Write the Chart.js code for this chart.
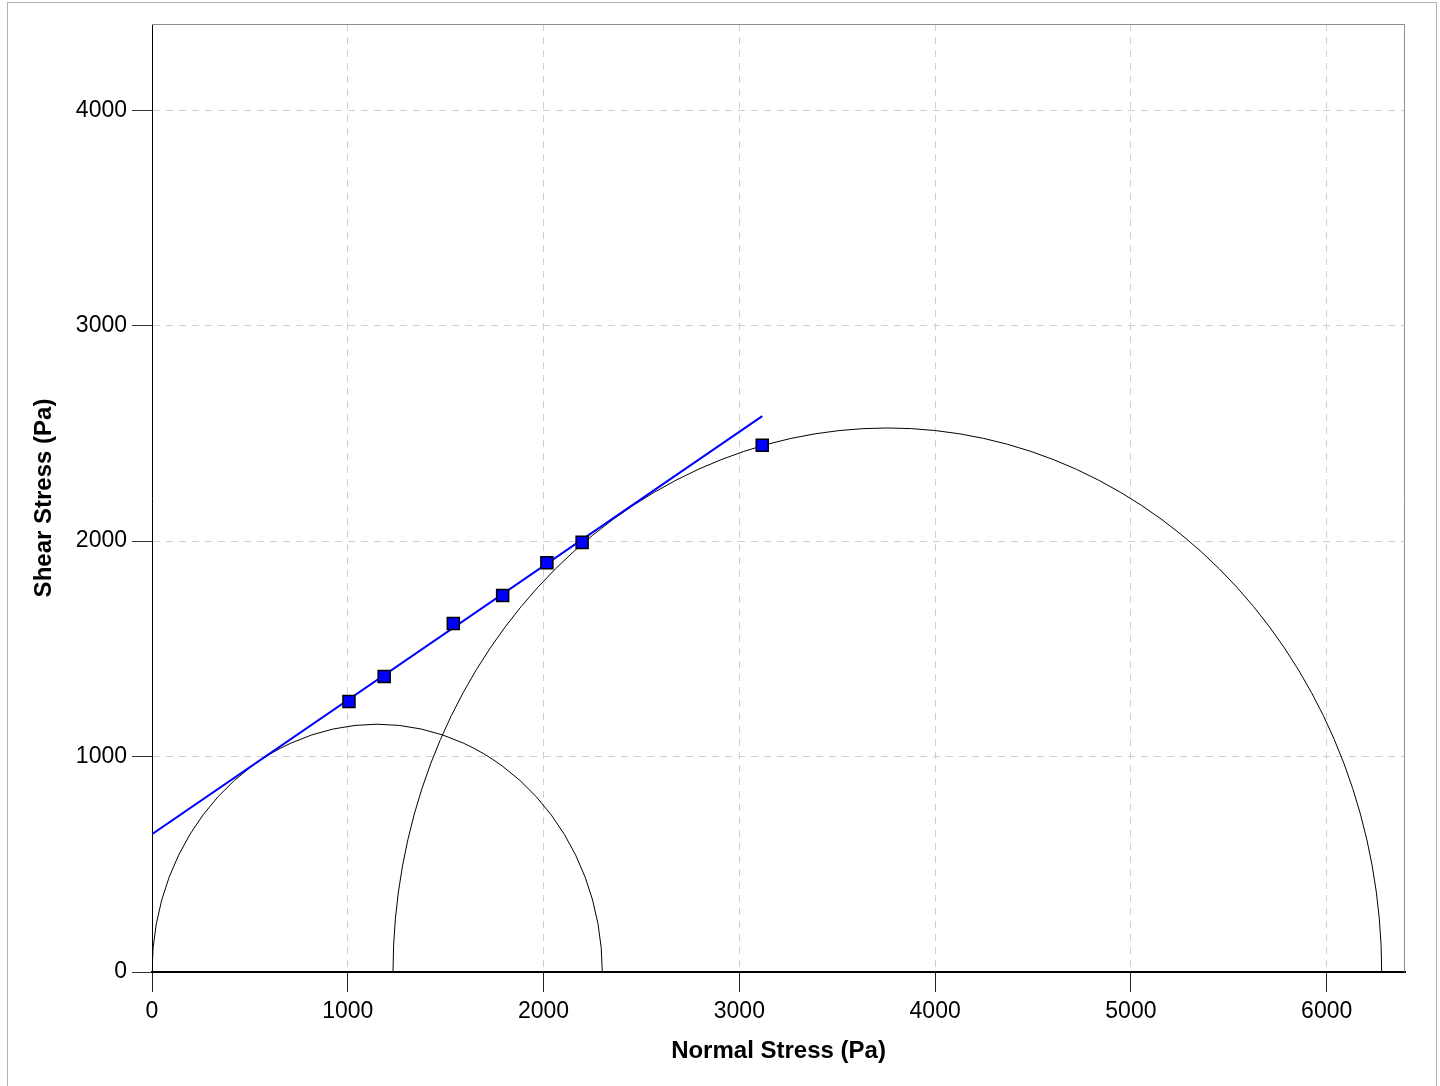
<!DOCTYPE html>
<html lang="en">
<head>
    <meta charset="UTF-8">
    <title>Mohr Circles - Shear vs Normal Stress</title>
    <style>
        html, body { margin: 0; padding: 0; background: #fff; }
        .frame { position: absolute; left: 7px; top: 2px; width: 1428px; height: 1090px;
                 border: 1px solid #b4b4b4; border-bottom: none; }
        #chart { position: absolute; left: 0; top: 0; }
    </style>
</head>
<body>
    <div class="frame"></div>
    <canvas id="chart" width="1440" height="1086"></canvas>

    <script src="https://cdnjs.cloudflare.com/ajax/libs/Chart.js/4.4.0/chart.umd.min.js"></script>
    <script>
        // measured points (normal stress, shear stress) in Pa
        const normalStress = [1006, 1186, 1539, 1791, 2017, 2197, 3117];
        const shearStress  = [1256, 1372, 1618, 1747, 1900, 1994, 2445];

        // yield locus line end points
        const lineX = [0, 3117];
        const lineY = [640, 2580];

        // Mohr circles: centre on the normal stress axis and radius
        const circleCenters = [1150, 3756];
        const circleRadii   = [1150, 2525];

        const xTicks = [0, 1000, 2000, 3000, 4000, 5000, 6000];
        const yTicks = [0, 1000, 2000, 3000, 4000];
        const xMax = 6400, yMax = 4400;

        const FONT = 'Liberation Sans, Arial, sans-serif';

        // draws the half circles through the chart scales, plus the top/right frame
        const mohrPlugin = {
            id: 'mohr',
            beforeDatasetsDraw(chart) {
                const { ctx, chartArea, scales: { x, y } } = chart;
                ctx.save();
                ctx.beginPath();
                ctx.rect(chartArea.left, chartArea.top, chartArea.right - chartArea.left, chartArea.bottom - chartArea.top + 1);
                ctx.clip();
                ctx.strokeStyle = '#000';
                ctx.lineWidth = 1;
                circleCenters.forEach((c, i) => {
                    const r = circleRadii[i];
                    const cx = x.getPixelForValue(c);
                    const cy = y.getPixelForValue(0);
                    const rx = x.getPixelForValue(c + r) - cx;
                    const ry = cy - y.getPixelForValue(r);
                    ctx.beginPath();
                    ctx.ellipse(cx, cy, rx, ry, 0, Math.PI, 2 * Math.PI);
                    ctx.stroke();
                });
                ctx.restore();
            },
            afterDraw(chart) {
                const { ctx, chartArea } = chart;
                ctx.save();
                ctx.strokeStyle = '#8c8c8c';
                ctx.lineWidth = 1;
                ctx.beginPath();
                ctx.moveTo(chartArea.left, chartArea.top + 0.5);
                ctx.lineTo(chartArea.right - 0.5, chartArea.top + 0.5);
                ctx.lineTo(chartArea.right - 0.5, chartArea.bottom);
                ctx.stroke();
                ctx.restore();
            }
        };

        new Chart(document.getElementById('chart'), {
            type: 'scatter',
            data: {
                datasets: [
                    {
                        type: 'line',
                        label: 'Yield locus',
                        data: lineX.map((v, i) => ({ x: v, y: lineY[i] })),
                        borderColor: '#0000ff',
                        borderWidth: 2,
                        pointRadius: 0,
                        fill: false,
                        order: 2
                    },
                    {
                        label: 'Measured',
                        data: normalStress.map((v, i) => ({ x: v, y: shearStress[i] })),
                        pointStyle: 'rect',
                        pointRadius: 8.5,
                        backgroundColor: '#0000ff',
                        borderColor: '#000',
                        borderWidth: 1.5,
                        order: 1
                    }
                ]
            },
            options: {
                responsive: false,
                animation: false,
                devicePixelRatio: 1,
                layout: { padding: { left: 0, top: 24, right: 35, bottom: 0 } },
                plugins: { legend: { display: false }, tooltip: { enabled: false } },
                scales: {
                    x: {
                        type: 'linear',
                        min: 0,
                        max: xMax,
                        afterBuildTicks: s => { s.ticks = xTicks.map(v => ({ value: v })); },
                        afterFit: s => { s.height = 114; },
                        grid: { color: '#d0d0d0', tickColor: '#222', tickLength: 20, tickBorderDash: [1, 0] },
                        border: { color: '#000', width: 2, dash: [7, 6] },
                        ticks: { color: '#000', font: { family: FONT, size: 23 }, padding: 6, maxRotation: 0,
                                 callback: v => String(v) },
                        title: { display: true, text: 'Normal Stress (Pa)', color: '#000',
                                 font: { family: FONT, size: 24, weight: 'bold' }, padding: { top: 0, bottom: 20 } }
                    },
                    y: {
                        type: 'linear',
                        min: 0,
                        max: yMax,
                        afterBuildTicks: s => { s.ticks = yTicks.map(v => ({ value: v })); },
                        afterFit: s => { s.width = 152; },
                        grid: { color: '#d0d0d0', tickColor: '#333', tickLength: 20, tickBorderDash: [1, 0] },
                        border: { color: '#000', width: 1, dash: [7, 6] },
                        ticks: { color: '#000', font: { family: FONT, size: 23 }, padding: 5,
                                 callback: v => String(v) },
                        title: { display: true, text: 'Shear Stress (Pa)', color: '#000',
                                 font: { family: FONT, size: 24, weight: 'bold' }, padding: { top: 30, bottom: 0 } }
                    }
                }
            },
            plugins: [mohrPlugin]
        });
    </script>
</body>
</html>
